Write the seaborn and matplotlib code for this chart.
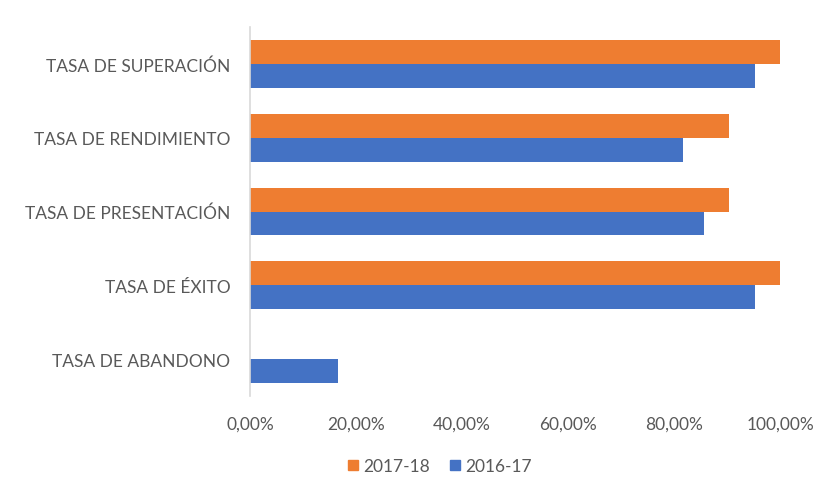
import matplotlib
import pandas as pd
import matplotlib.pyplot as plt
import seaborn as sns
from matplotlib.ticker import FuncFormatter, MultipleLocator

matplotlib.use('Agg')

categories = [
    "TASA DE SUPERACIÓN",
    "TASA DE RENDIMIENTO",
    "TASA DE PRESENTACIÓN",
    "TASA DE ÉXITO",
    "TASA DE ABANDONO",
]
series_names = ["2017-18", "2016-17"]
values_1718 = [100.0, 90.4, 90.4, 100.0, 0.0]
values_1617 = [95.2, 81.7, 85.7, 95.2, 16.6]
colors = ["#EE7D31", "#4472C4"]


def build_frame():
    rows = []
    for cat, v in zip(categories, values_1718):
        rows.append({"categoria": cat, "curso": series_names[0], "valor": v})
    for cat, v in zip(categories, values_1617):
        rows.append({"categoria": cat, "curso": series_names[1], "valor": v})
    return pd.DataFrame(rows)


def main():
    df = build_frame()
    sns.set_style("white")
    plt.rcParams['font.family'] = ['Lato', 'DejaVu Sans']

    fig = plt.figure(figsize=(8.25, 4.85), dpi=100)
    ax = fig.add_axes([250 / 825, 1 - 397 / 485, 530 / 825, 369 / 485])

    sns.barplot(data=df, y="categoria", x="valor", hue="curso", order=categories,
                hue_order=series_names, palette=colors, orient="h", width=0.65,
                saturation=1, linewidth=0, ax=ax, legend=False)

    ax.set_xlim(0, 100)
    ax.xaxis.set_major_locator(MultipleLocator(20))
    ax.xaxis.set_major_formatter(FuncFormatter(lambda v, p: f"{v:.2f}%".replace(".", ",")))
    ax.set_xlabel("")
    ax.set_ylabel("")
    ax.tick_params(axis="both", length=0, labelsize=12.5, colors="#595959")
    ax.tick_params(axis="x", pad=14)
    ax.tick_params(axis="y", pad=14)

    for side in ["top", "right", "bottom"]:
        ax.spines[side].set_visible(False)
    ax.spines["left"].set_color("#D9D9D9")
    ax.spines["left"].set_linewidth(1.2)
    ax.grid(False)

    handles = [plt.Rectangle((0, 0), 1, 1, color=c) for c in colors]
    fig.legend(handles, series_names, loc="center", bbox_to_anchor=(440 / 825, 1 - 467 / 485),
               ncol=2, frameon=False, fontsize=12.5, handlelength=0.55, handleheight=0.55,
               handletextpad=0.3, columnspacing=1.2, labelcolor="#595959")

    fig.savefig("out.png", dpi=100, facecolor="white")
    plt.close(fig)


if __name__ == "__main__":
    main()
